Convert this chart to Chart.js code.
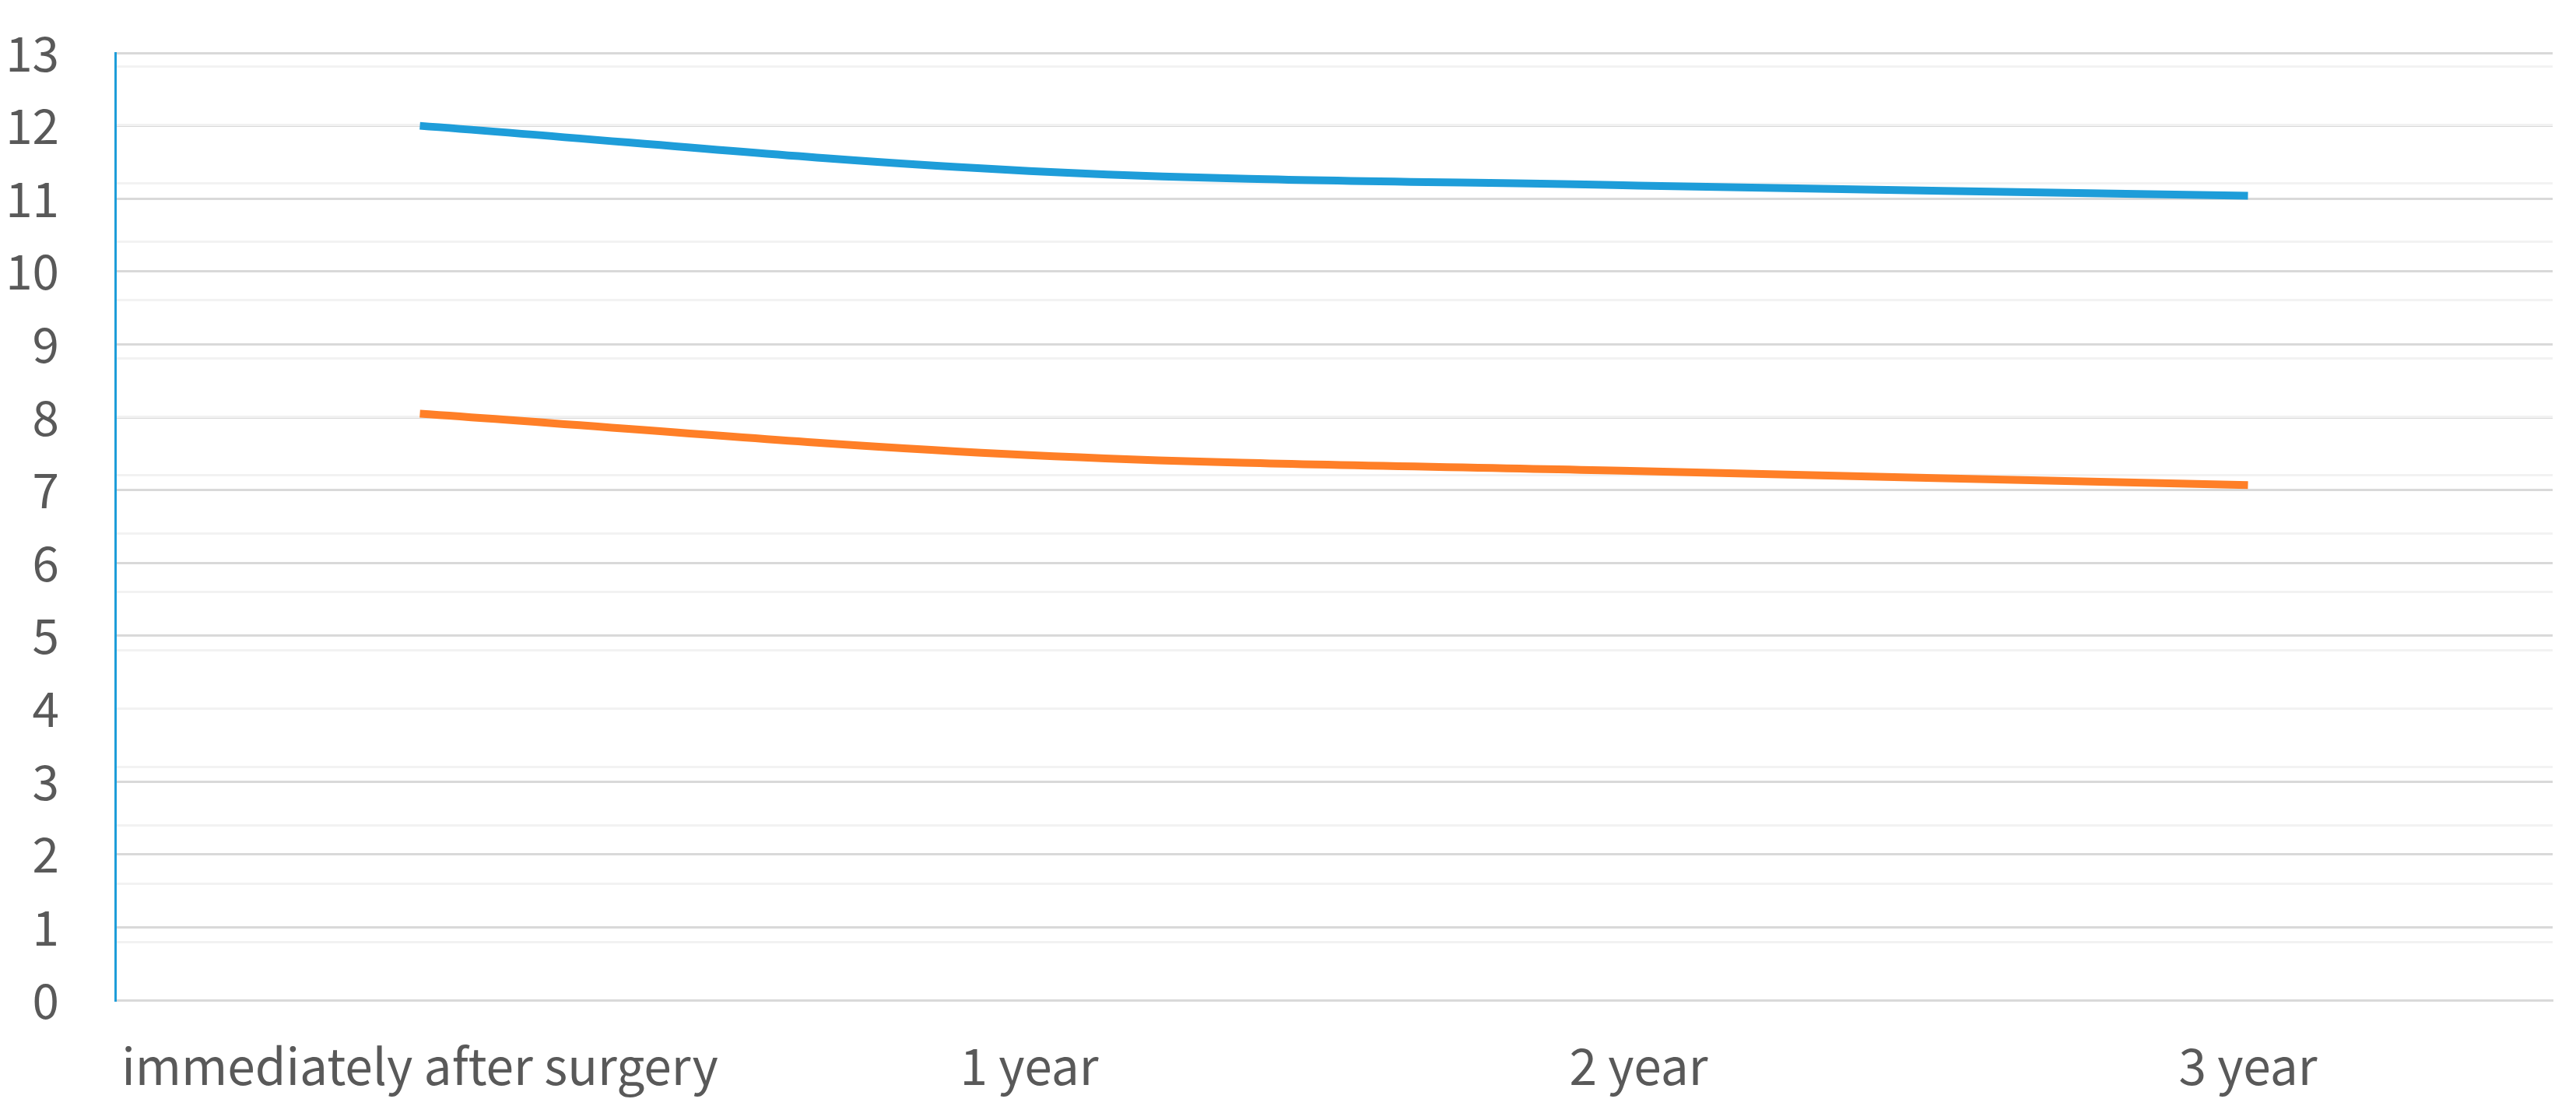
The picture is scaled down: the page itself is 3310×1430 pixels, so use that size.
<!DOCTYPE html>
<html>
<head>
<meta charset="utf-8">
<script src="https://cdn.jsdelivr.net/npm/chart.js@4"></script>
<style>
  html, body { margin: 0; padding: 0; background: #fff; }
  #wrap { width: 3310px; height: 1430px; }
</style>
</head>
<body>
<div id="wrap"><canvas id="chart"></canvas></div>
<script>
const categories = ["immediately after surgery", "1 year", "2 year", "3 year"];
const seriesBlue = [12.0, 11.38, 11.18, 11.04];
const seriesOrange = [8.05, 7.48, 7.26, 7.07];
const yMin = 0;
const yMax = 13;
const yStep = 1;
// faint second set of grid lines seen behind the main ones
const y2Max = 16.23;

const fontFamily = "'Noto Sans CJK KR', 'Noto Sans', sans-serif";
const textColor = "#595959";

const ctx = document.getElementById("chart").getContext("2d");

new Chart(ctx, {
  type: "line",
  data: {
    labels: categories,
    datasets: [
      {
        label: "A",
        data: seriesBlue,
        yAxisID: "y",
        borderColor: "#1e9dd9",
        borderWidth: 10,
        pointRadius: 0,
        tension: 0.35,
        fill: false
      },
      {
        label: "B",
        data: seriesOrange,
        yAxisID: "y",
        borderColor: "#ff7f27",
        borderWidth: 10,
        pointRadius: 0,
        tension: 0.35,
        fill: false
      }
    ]
  },
  options: {
    responsive: true,
    maintainAspectRatio: false,
    animation: false,
    layout: { padding: { top: 68, right: 30, left: 0, bottom: 0 } },
    plugins: {
      legend: { display: false },
      tooltip: { enabled: false }
    },
    scales: {
      x: {
        type: "category",
        offset: true,
        grid: { display: false, offset: true },
        border: { display: true, color: "#d9d9d9", width: 3 },
        ticks: {
          color: textColor,
          font: { family: fontFamily, size: 64 },
          padding: 38,
          maxRotation: 0,
          autoSkip: false
        },
        afterFit: (scale) => { scale.height = 145; }
      },
      y: {
        position: "left",
        min: yMin,
        max: yMax,
        grid: { color: "#d9d9d9", lineWidth: 3, drawTicks: false },
        border: { display: true, color: "#1e9dd9", width: 3 },
        ticks: {
          stepSize: yStep,
          color: textColor,
          font: { family: fontFamily, size: 62 },
          padding: 72
        },
        afterFit: (scale) => {
          scale.width = 148;
          scale.paddingTop = 0;
          scale.paddingBottom = 0;
        }
      },
      y2: {
        position: "right",
        min: 0,
        max: y2Max,
        z: -1,
        grid: { color: "#f2f2f2", lineWidth: 3, drawTicks: false },
        border: { display: false },
        ticks: { display: false, stepSize: 1, includeBounds: false },
        afterFit: (scale) => { scale.width = 0; }
      }
    }
  }
});
</script>
</body>
</html>
